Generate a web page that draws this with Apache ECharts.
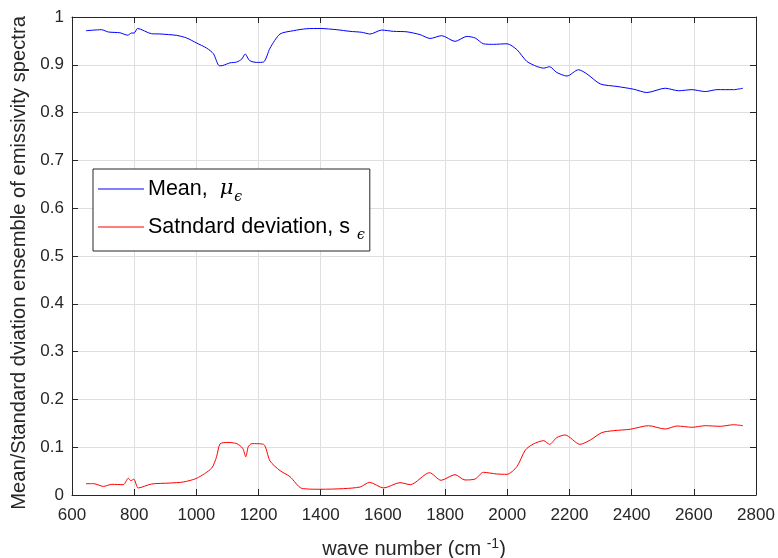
<!DOCTYPE html>
<html>
<head>
<meta charset="utf-8">
<script src="https://cdn.jsdelivr.net/npm/echarts@6/dist/echarts.min.js"></script>
<style>
html,body{margin:0;padding:0;background:#fff;}
#chart{width:778px;height:558px;}
</style>
</head>
<body>
<div id="chart"></div>
<script>
// Mean emissivity (wave number, value)
const meanWave = [645,695,717,754,779,792,800,811,856,883,937,969,1001,1033,1055,1074,1085,1108,1130,1146,1157,1171,1194,1216,1237,1269,1312,1355,1398,1452,1494,1532,1559,1596,1634,1677,1720,1752,1789,1832,1870,1897,1923,1956,1999,2031,2063,2095,2117,2136,2159,2192,2229,2256,2299,2353,2406,2449,2508,2551,2594,2637,2674,2728,2758];
const meanVals = [0.9713,0.9734,0.9686,0.967,0.962,0.9665,0.9665,0.976,0.965,0.9645,0.9615,0.956,0.9455,0.935,0.923,0.898,0.8985,0.904,0.9058,0.912,0.9225,0.909,0.905,0.9058,0.935,0.9644,0.9713,0.9755,0.976,0.9734,0.970,0.968,0.9644,0.9727,0.970,0.969,0.963,0.955,0.961,0.949,0.9594,0.956,0.944,0.9428,0.944,0.9316,0.907,0.8966,0.893,0.896,0.884,0.8765,0.8897,0.881,0.860,0.8547,0.849,0.842,0.851,0.8457,0.848,0.844,0.848,0.848,0.851];
// Standard deviation (wave number, value)
const stdWave = [645,670,701,728,765,781,789,799,813,856,915,958,1001,1049,1065,1076,1098,1130,1149,1159,1167,1178,1216,1237,1269,1301,1339,1398,1473,1527,1557,1602,1655,1688,1750,1787,1832,1864,1897,1923,1966,1999,2031,2058,2084,2117,2136,2159,2186,2234,2267,2304,2342,2395,2454,2508,2546,2594,2637,2685,2728,2758];
const stdVals = [0.0237,0.0237,0.018,0.0223,0.0216,0.035,0.030,0.033,0.0147,0.023,0.025,0.0272,0.035,0.056,0.080,0.1068,0.110,0.1075,0.0977,0.080,0.101,0.1075,0.106,0.071,0.051,0.0384,0.014,0.012,0.0133,0.0168,0.0265,0.0147,0.0258,0.0216,0.0467,0.0307,0.0426,0.0314,0.0335,0.0475,0.044,0.0433,0.0593,0.094,0.1068,0.1137,0.106,0.120,0.1256,0.106,0.115,0.1305,0.1346,0.1375,0.145,0.138,0.1444,0.1417,0.145,0.1437,0.147,0.145];
// Axis ticks
const xTicks = [600,800,1000,1200,1400,1600,1800,2000,2200,2400,2600,2800];
const yTicks = [0,0.1,0.2,0.3,0.4,0.5,0.6,0.7,0.8,0.9,1];

const FONT = '"Liberation Sans", Arial, Helvetica, sans-serif';
const AX = '#262626';
const GRIDC = '#dfdfdf';

const meanData = meanWave.map((w,i)=>[w, meanVals[i]]);
const stdData = stdWave.map((w,i)=>[w, stdVals[i]]);

const chart = echarts.init(document.getElementById('chart'));
const xMin = xTicks[0], xMax = xTicks[xTicks.length-1], xInt = xTicks[1]-xTicks[0];
const yMin = yTicks[0], yMax = yTicks[yTicks.length-1], yInt = 0.1;

function xAxisBase(pos, showLabel){
  return {
    type:'value', position:pos, min:xMin, max:xMax, interval:xInt,
    axisLine:{show:true, onZero:false, lineStyle:{color:AX,width:1}},
    axisTick:{show:true, inside:true, length:6, lineStyle:{color:AX}},
    axisLabel:{show:showLabel, color:AX, fontSize:17, fontFamily:FONT, margin:12,
      formatter:(v)=> String(v)},
    splitLine:{show:showLabel, lineStyle:{color:GRIDC,width:1}}
  };
}
function yAxisBase(pos, showLabel){
  return {
    type:'value', position:pos, min:yMin, max:yMax, interval:yInt,
    axisLine:{show:true, onZero:false, lineStyle:{color:AX,width:1}},
    axisTick:{show:true, inside:true, length:6, lineStyle:{color:AX}},
    axisLabel:{show:showLabel, color:AX, fontSize:17, fontFamily:FONT, margin:8,
      formatter:(v)=> (Math.round(v*10)/10).toString()},
    splitLine:{show:showLabel, lineStyle:{color:GRIDC,width:1}}
  };
}

const xBottom = xAxisBase('bottom', true);
xBottom.name = '{a|wave number (cm }{sup|-1}{a|)}';
xBottom.nameLocation = 'middle';
xBottom.nameGap = 42;
xBottom.nameTextStyle = {
  color:AX, fontFamily:FONT,
  rich:{
    a:{fontSize:20, fontFamily:FONT, color:AX},
    sup:{fontSize:14, fontFamily:FONT, color:AX, padding:[0,0,11,0]}
  }
};
const yLeft = yAxisBase('left', true);
yLeft.name = 'Mean/Standard dviation ensemble of emissivity spectra';
yLeft.nameLocation = 'middle';
yLeft.nameGap = 32;
yLeft.nameTextStyle = {color:AX, fontSize:20.2, fontFamily:FONT, padding:[0,14,0,0]};

const option = {
  animation:false,
  backgroundColor:'#ffffff',
  grid:{left:72, right:22, top:17, bottom:63, containLabel:false, outerBoundsMode:'none'},
  xAxis:[xBottom, xAxisBase('top', false)],
  yAxis:[yLeft, yAxisBase('right', false)],
  legend:{
    left:93, top:169, orient:'vertical',
    backgroundColor:'#ffffff', borderColor:AX, borderWidth:1, borderRadius:0,
    padding:[9,5,9,5], itemWidth:46, itemHeight:1, itemGap:12,
    icon:'rect',
    data:['Mean','Std'],
    formatter:(name)=> name==='Mean'
      ? '{a|Mean,  }{mu|μ}{sub|ϵ}'
      : '{a|Satndard deviation, s }{sub|ϵ}',
    textStyle:{
      color:'#000', fontFamily:FONT, fontSize:21.5, padding:[0,0,0,-1],
      rich:{
        a:{fontSize:21.5, fontFamily:FONT, color:'#000'},
        mu:{fontSize:21, fontFamily:'"DejaVu Serif", serif', fontStyle:'italic', color:'#000'},
        sub:{fontSize:14, fontFamily:'"DejaVu Serif", serif', fontStyle:'italic', color:'#000', padding:[16,0,0,1]}
      }
    }
  },
  series:[
    {name:'Mean', type:'line', data:meanData, showSymbol:false, symbol:'none', smooth:0.25,
     lineStyle:{color:'#0000ff', width:1}, itemStyle:{color:'#0000ff'}},
    {name:'Std', type:'line', data:stdData, showSymbol:false, symbol:'none', smooth:0.25,
     lineStyle:{color:'#ff0000', width:1}, itemStyle:{color:'#ff0000'}}
  ]
};
chart.setOption(option);
</script>
</body>
</html>
